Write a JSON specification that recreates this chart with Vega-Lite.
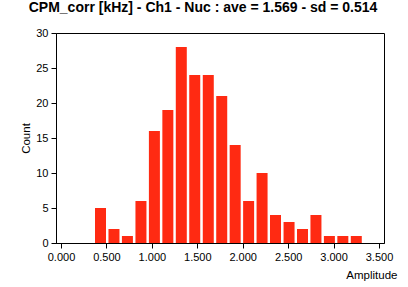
{
  "$schema": "https://vega.github.io/schema/vega-lite/v6.json",
  "autosize": "none",
  "width": 328,
  "height": 210,
  "padding": {"left": 56, "top": 33, "right": 24, "bottom": 44},
  "background": "white",
  "title": {
    "text": "CPM_corr [kHz] - Ch1 - Nuc : ave = 1.569 - sd = 0.514",
    "font": "Liberation Sans",
    "fontSize": 14,
    "fontWeight": "bold",
    "color": "black",
    "anchor": "middle",
    "dx": -17,
    "offset": 12
  },
  "config": {
    "view": {"stroke": "black", "strokeWidth": 1},
    "axis": {
      "grid": false,
      "domainColor": "black",
      "tickColor": "black",
      "labelColor": "black",
      "titleColor": "black",
      "labelFont": "Liberation Sans",
      "titleFont": "Liberation Sans",
      "labelFontSize": 11,
      "titleFontSize": 11.5,
      "titleFontWeight": "normal",
      "tickSize": 5
    }
  },
  "data": {
    "values": [
      {"amp": 0.435, "count": 5},
      {"amp": 0.583, "count": 2},
      {"amp": 0.731, "count": 1},
      {"amp": 0.880, "count": 6},
      {"amp": 1.028, "count": 16},
      {"amp": 1.176, "count": 19},
      {"amp": 1.324, "count": 28},
      {"amp": 1.472, "count": 24},
      {"amp": 1.621, "count": 24},
      {"amp": 1.769, "count": 21},
      {"amp": 1.917, "count": 14},
      {"amp": 2.065, "count": 6},
      {"amp": 2.213, "count": 10},
      {"amp": 2.361, "count": 4},
      {"amp": 2.510, "count": 3},
      {"amp": 2.658, "count": 2},
      {"amp": 2.806, "count": 4},
      {"amp": 2.954, "count": 1},
      {"amp": 3.102, "count": 1},
      {"amp": 3.250, "count": 1}
    ]
  },
  "mark": {"type": "bar", "color": "#ff2a12", "size": 11},
  "encoding": {
    "x": {
      "field": "amp",
      "type": "quantitative",
      "scale": {"domain": [0, 3.5], "nice": false, "zero": false},
      "axis": {
        "values": [0, 0.5, 1, 1.5, 2, 2.5, 3, 3.5],
        "format": ".3f",
        "title": "Amplitude",
        "titleAnchor": "end",
        "titleAlign": "right",
        "titleX": 341,
        "titleY": 32,
        "titleBaseline": "middle",
        "labelPadding": 3
      }
    },
    "y": {
      "field": "count",
      "type": "quantitative",
      "scale": {"domain": [0, 30], "nice": false},
      "axis": {
        "values": [0, 5, 10, 15, 20, 25, 30],
        "title": "Count",
        "titleX": -30,
        "titleBaseline": "middle",
        "labelPadding": 3
      }
    }
  }
}
